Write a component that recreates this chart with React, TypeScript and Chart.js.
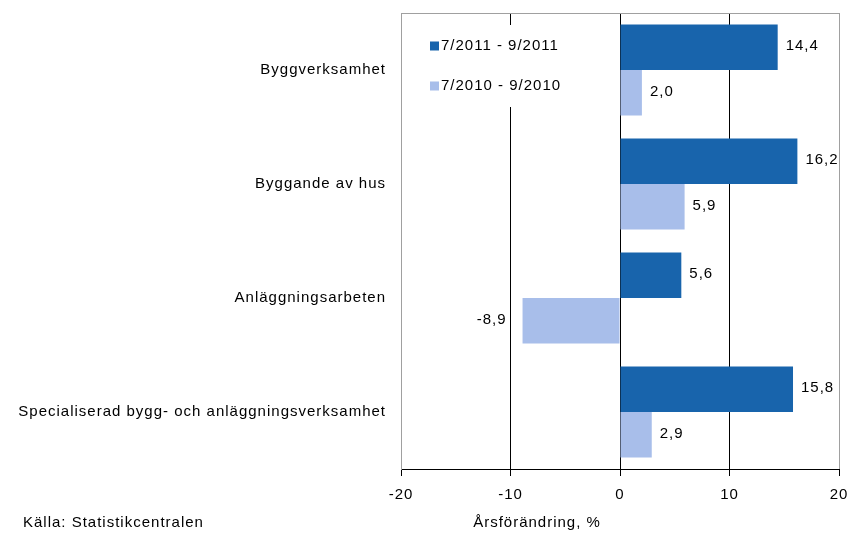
import React, { useEffect, useRef } from "react";
import { Chart, registerables } from "chart.js";

Chart.register(...registerables);

const categories = [
  "Byggverksamhet",
  "Byggande av hus",
  "Anläggningsarbeten",
  "Specialiserad bygg- och anläggningsverksamhet",
];
const seriesNames = ["7/2011 - 9/2011", "7/2010 - 9/2010"];
const values2011 = [14.4, 16.2, 5.6, 15.8];
const values2010 = [2.0, 5.9, -8.9, 2.9];
const xTicks = [-20, -10, 0, 10, 20];
const axisTitle = "Årsförändring, %";
const sourceText = "Källa: Statistikcentralen";

const DARK = "#1864AC";
const LIGHT = "#A8BEEA";
const FONT_FAMILY = '"Liberation Sans", Arial, sans-serif';
const FONT_SIZE = 15;
const FONT = `${FONT_SIZE}px ${FONT_FAMILY}`;

const spacingPlugin = {
  id: "spacing",
  beforeLayout(chart: any) {
    chart.ctx.letterSpacing = "1px";
  },
  beforeDraw(chart: any) {
    chart.ctx.letterSpacing = "1px";
  },
};

const framePlugin = {
  id: "frame",
  beforeDatasetsDraw(chart: any) {
    const { ctx, chartArea } = chart;
    ctx.save();
    ctx.strokeStyle = "#a0a0a0";
    ctx.lineWidth = 1;
    ctx.beginPath();
    ctx.moveTo(chartArea.left, chartArea.top + 0.5);
    ctx.lineTo(chartArea.right + 0.5, chartArea.top + 0.5);
    ctx.lineTo(chartArea.right + 0.5, chartArea.bottom);
    ctx.stroke();

    // legend box (white, hides gridline)
    ctx.fillStyle = "#fff";
    ctx.fillRect(415, 25, 185, 82);
    const colors = [DARK, LIGHT];
    const ys = [46, 86];
    ctx.font = FONT;
    ctx.letterSpacing = "1px";
    ctx.textAlign = "left";
    ctx.textBaseline = "middle";
    seriesNames.forEach((name, i) => {
      ctx.fillStyle = colors[i];
      ctx.fillRect(430, ys[i] - 4.5, 9, 9);
      ctx.fillStyle = "#000";
      ctx.fillText(name, 441, ys[i]);
    });
    ctx.restore();
  },
};

const labelsPlugin = {
  id: "valueLabels",
  afterDatasetsDraw(chart: any) {
    const { ctx } = chart;
    ctx.save();
    ctx.font = FONT;
    ctx.letterSpacing = "1px";
    ctx.fillStyle = "#000";
    ctx.textBaseline = "middle";
    chart.data.datasets.forEach((ds: any, di: number) => {
      const meta = chart.getDatasetMeta(di);
      meta.data.forEach((el: any, i: number) => {
        const v = ds.data[i];
        const txt = v.toFixed(1).replace(".", ",");
        if (v >= 0) {
          ctx.textAlign = "left";
          ctx.fillText(txt, el.x + 8, el.y - 1);
        } else {
          ctx.textAlign = "right";
          ctx.fillText(txt, el.x - 16, el.y - 1);
        }
      });
    });
    ctx.restore();
  },
  afterDraw(chart: any) {
    const { ctx } = chart;
    ctx.save();
    ctx.font = FONT;
    ctx.letterSpacing = "1px";
    ctx.fillStyle = "#000";
    ctx.textBaseline = "middle";
    ctx.textAlign = "center";
    ctx.fillText(axisTitle, 537, 523);
    ctx.textAlign = "left";
    ctx.fillText(sourceText, 23, 523);
    ctx.restore();
  },
};

export default function App() {
  const ref = useRef<HTMLCanvasElement>(null);

  useEffect(() => {
    if (!ref.current) return;
    const chart = new Chart(ref.current, {
      type: "bar",
      data: {
        labels: categories,
        datasets: [
          {
            label: seriesNames[0],
            data: values2011,
            backgroundColor: DARK,
            borderWidth: 0,
            barPercentage: 1,
            categoryPercentage: 0.8,
          },
          {
            label: seriesNames[1],
            data: values2010,
            backgroundColor: LIGHT,
            borderWidth: 0,
            barPercentage: 1,
            categoryPercentage: 0.8,
          },
        ],
      },
      options: {
        indexAxis: "y",
        animation: false,
        responsive: false,
        layout: { padding: { left: 0, right: 8, top: 13, bottom: 0 } },
        plugins: {
          legend: { display: false },
          tooltip: { enabled: false },
          title: { display: false },
        },
        scales: {
          x: {
            min: -20,
            max: 20,
            afterBuildTicks(scale: any) {
              scale.ticks = xTicks.map((v) => ({ value: v }));
            },
            afterFit(scale: any) {
              scale.height = 66;
              scale.paddingLeft = 0;
              scale.paddingRight = 0;
            },
            grid: {
              color: (c: any) => {
                const v = c.tick && c.tick.value;
                if (v === -10 || v === 0 || v === 10) return "#000";
                if (v === 20) return "#a0a0a0";
                return "rgba(0,0,0,0)";
              },
              tickColor: "#000",
              tickLength: 7,
              lineWidth: 1,
            },
            border: { display: true, color: "#000", width: 1 },
            ticks: {
              color: "#000",
              font: { family: FONT_FAMILY, size: FONT_SIZE },
              padding: 10,
              maxRotation: 0,
              autoSkip: false,
            },
          },
          y: {
            afterFit(scale: any) {
              scale.width = 401;
              scale.paddingTop = 0;
              scale.paddingBottom = 0;
            },
            grid: { display: false, drawTicks: false },
            border: { display: true, color: "#a0a0a0", width: 1 },
            ticks: {
              color: "#000",
              font: { family: FONT_FAMILY, size: FONT_SIZE },
              padding: 15,
              autoSkip: false,
            },
          },
        },
      },
      plugins: [spacingPlugin, framePlugin, labelsPlugin],
    } as any);
    return () => chart.destroy();
  }, []);

  return (
    <canvas
      ref={ref}
      width={847}
      height={535}
      style={{ position: "fixed", left: 0, top: 0, display: "block", width: 847, height: 535 }}
    />
  );
}
